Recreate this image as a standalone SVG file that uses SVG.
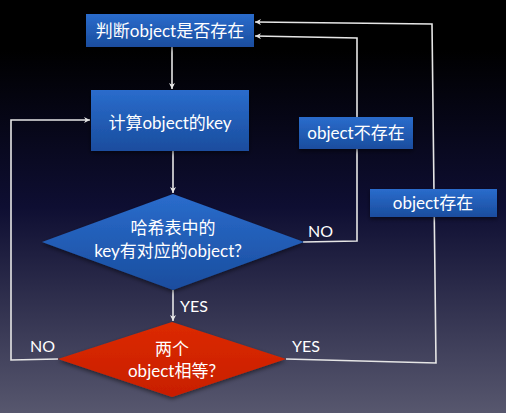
<svg xmlns="http://www.w3.org/2000/svg" width="506" height="413" viewBox="0 0 506 413">
<defs>
<linearGradient id="bg" x1="0" y1="0" x2="0" y2="1">
<stop offset="0" stop-color="#000000"/>
<stop offset="0.12" stop-color="#000000"/>
<stop offset="0.5" stop-color="#0e0e32"/>
<stop offset="1" stop-color="#57576e"/>
</linearGradient>
<linearGradient id="blue" x1="0" y1="0" x2="0" y2="1">
<stop offset="0" stop-color="#2a6ccc"/>
<stop offset="1" stop-color="#1a4d9e"/>
</linearGradient>
<linearGradient id="red" x1="0" y1="0" x2="0" y2="1">
<stop offset="0" stop-color="#dc2a00"/>
<stop offset="1" stop-color="#c81e00"/>
</linearGradient>
<filter id="sh" x="-10%" y="-10%" width="120%" height="130%">
<feDropShadow dx="0" dy="2" stdDeviation="2" flood-color="#000" flood-opacity="0.5"/>
</filter>
<marker id="arr" viewBox="0 0 10 10" refX="10" refY="5" markerWidth="6" markerHeight="6" orient="auto" markerUnits="userSpaceOnUse">
<path d="M0,0 L10,5 L0,10 L3,5 Z" fill="#e8e8e8"/>
</marker>
</defs>
<style>
.t{font-family:Lato,"Noto Sans CJK SC",sans-serif;font-size:17px;fill:#ffffff;text-anchor:middle}
.lbl{font-family:Lato,"Noto Sans CJK SC",sans-serif;font-size:16px;fill:#ffffff}
.ln{fill:none;stroke:#e6e6e6;stroke-width:1.6}
.box{fill:url(#blue);filter:url(#sh)}
</style>
<rect width="506" height="413" fill="url(#bg)"/>
<g id="connectors">
<path class="ln" d="M172,47 L172,89" marker-end="url(#arr)"/>
<path class="ln" d="M173,151 L173,193" marker-end="url(#arr)"/>
<path class="ln" d="M173,290 L173,321" marker-end="url(#arr)"/>
<path class="ln" d="M303,242 L357,241 L357,38 L255,36" marker-end="url(#arr)"/>
<path class="ln" d="M286,359 L436,363 L432,24 L255,22" marker-end="url(#arr)"/>
<path class="ln" d="M58,359 L11,360 L11,120 L90,120" marker-end="url(#arr)"/>
<text class="lbl" x="308" y="237">NO</text>
<text class="lbl" x="180" y="312">YES</text>
<text class="lbl" x="30" y="352">NO</text>
<text class="lbl" x="292" y="352">YES</text>
</g>
<g id="n1">
<rect class="box" x="86" y="14" width="168" height="33"/>
<text class="t" x="170" y="37">判断object是否存在</text>
</g>
<g id="n2">
<rect class="box" x="91" y="90" width="158" height="61"/>
<text class="t" x="170" y="129">计算object的key</text>
</g>
<g id="n3">
<polygon points="173,194 304,242 173,290 42,242" fill="url(#blue)" filter="url(#sh)"/>
<text class="t" x="173" y="234">哈希表中的</text>
<text class="t" x="168" y="257">key有对应的object?</text>
</g>
<g id="n4">
<polygon points="172,322 286,359 172,397 58,359" fill="url(#red)" filter="url(#sh)"/>
<text class="t" x="172" y="355">两个</text>
<text class="t" x="172" y="377">object相等?</text>
</g>
<g id="n5">
<rect class="box" x="299" y="117" width="114" height="32"/>
<text class="t" x="356" y="139">object不存在</text>
</g>
<g id="n6">
<rect class="box" x="370" y="189" width="127" height="28"/>
<text class="t" x="433" y="209">object存在</text>
</g>
</svg>
